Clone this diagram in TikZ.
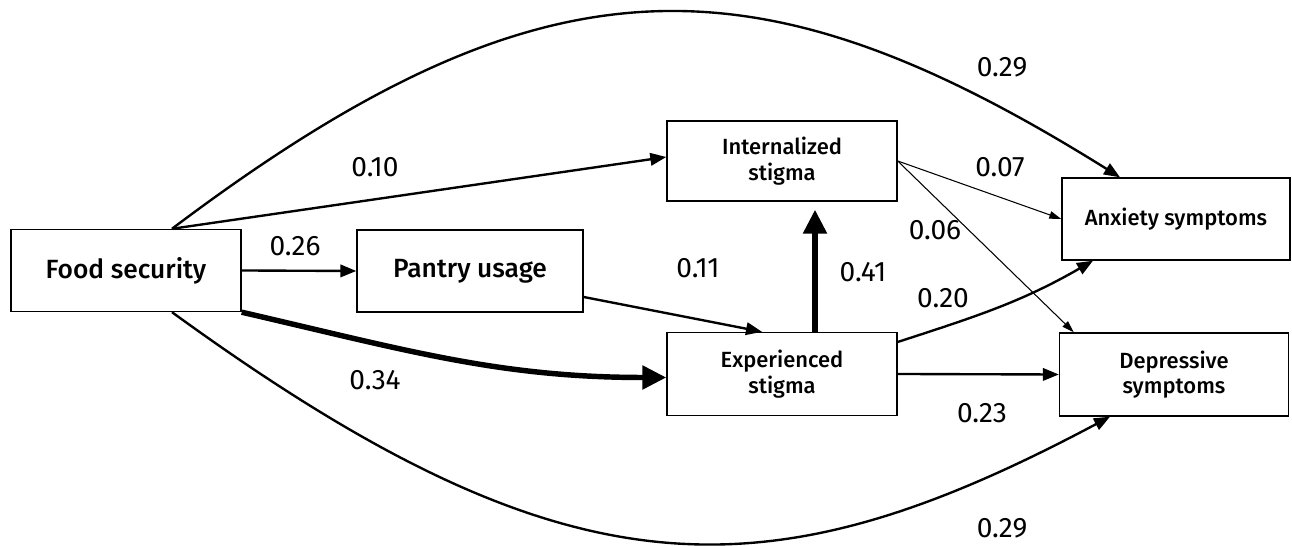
\documentclass[tikz,border=0pt]{standalone}
\usepackage{fontspec}
\setmainfont{Fira Sans}
\newfontfamily\boxfont{Fira Sans Medium}
\usetikzlibrary{arrows.meta}

\tikzset{
  var/.style={draw, line width=0.8pt, minimum width=4.6cm, minimum height=1.64cm, inner sep=0pt, align=center, font=\boxfont\fontsize{12.5}{14.5}\selectfont},
  bigvar/.style={var, font=\boxfont\fontsize{15}{18}\selectfont},
  path/.style={line width=1.35pt, -{Triangle[length=0.32cm, width=0.25cm]}},
  thinpath/.style={line width=0.6pt, -{Triangle[length=0.24cm, width=0.15cm]}},
  thickpath/.style={line width=3.1pt, -{Triangle[length=0.48cm, width=0.46cm]}},
  coef/.style={font=\fontsize{16}{19}\selectfont, inner sep=0pt}
}

\begin{document}
\begin{tikzpicture}
\useasboundingbox (0,0) rectangle (25.84,10.92);

% variables
\node [bigvar] (food) at (2.52, 5.51) {Food security};
\node [bigvar, minimum width=4.52cm] (pantry) at (9.40, 5.50) {Pantry usage};
\node [var, minimum height=1.6cm] (intern) at (15.64, 7.70) {Internalized\\stigma};
\node [var, minimum height=1.66cm] (exper) at (15.64, 3.44) {Experienced\\stigma};
\node [var, minimum width=4.56cm] (anx) at (23.52, 6.54) {Anxiety symptoms};
\node [var, minimum width=4.58cm, minimum height=1.66cm] (dep) at (23.48, 3.43) {Depressive\\symptoms};

% paths
\draw [path] (food.east) -- (pantry.west);
\draw [path] ([xshift=0.92cm]food.north) -- ([yshift=0.08cm]intern.west);
\draw [thickpath] (food.south east) to [out=-13, in=180] ([yshift=-0.07cm]exper.west);
\draw [path] ([yshift=-0.52cm]pantry.east) -- ([xshift=-0.4cm]exper.north);
\draw [thickpath, shorten >=0.16cm] ([xshift=0.66cm]exper.north) -- ([xshift=0.66cm]intern.south);
\draw [path] ([yshift=0.64cm]exper.east) to [out=18, in=-150] ([xshift=-1.66cm]anx.south);
\draw [path] (exper.east) -- (dep.west);
\draw [thinpath] (intern.east) -- (anx.west);
\draw [thinpath] (intern.east) -- ([xshift=0.3cm]dep.north west);
\draw [path] ([xshift=0.92cm]food.north) .. controls +(37:9.3) and +(148:8.6) .. ([xshift=-1.12cm]anx.north);
\draw [path] ([xshift=0.92cm]food.south) .. controls +(-36:9.8) and +(208:7.8) .. ([xshift=-1.28cm]dep.south);

% coefficients
\node [coef] (c1) at (20.04, 9.58) {0.29};
\node [coef] (c2) at (7.50, 7.58) {0.10};
\node [coef] (c3) at (20.00, 7.58) {0.07};
\node [coef] (c4) at (18.70, 6.32) {0.06};
\node [coef] (c5) at (5.90, 6.00) {0.26};
\node [coef] (c6) at (13.96, 5.56) {0.11};
\node [coef] (c7) at (17.26, 5.48) {0.41};
\node [coef] (c8) at (18.86, 4.96) {0.20};
\node [coef] (c9) at (7.50, 3.32) {0.34};
\node [coef] (c10) at (19.64, 2.66) {0.23};
\node [coef] (c11) at (20.04, 0.36) {0.29};
\end{tikzpicture}
\end{document}
